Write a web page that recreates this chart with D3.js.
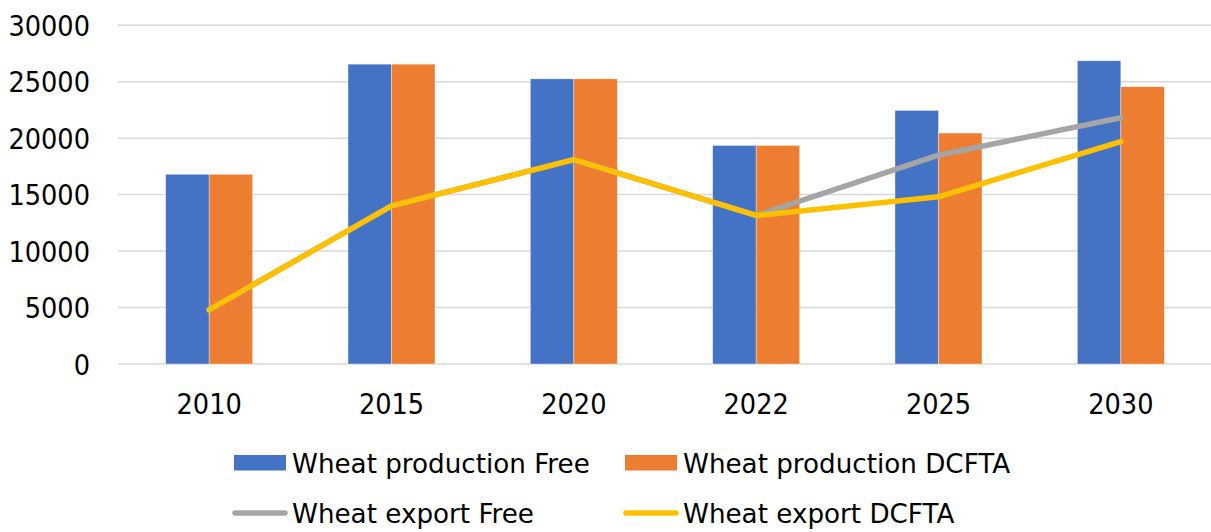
<!DOCTYPE html>
<html>
<head>
<meta charset="utf-8">
<script src="https://cdn.jsdelivr.net/npm/d3@7"></script>
<style>
  html, body { margin: 0; padding: 0; background: #fff; }
  svg { display: block; }
  .axis-text { font-family: "DejaVu Sans Condensed", "DejaVu Sans", sans-serif; font-stretch: condensed; font-size: 28.5px; fill: #000; }
  .legend-text { font-family: "DejaVu Sans", sans-serif; font-size: 26.2px; fill: #000; }
</style>
</head>
<body>
<svg id="chart" width="1211" height="532"></svg>
<script>
const categories = ["2010", "2015", "2020", "2022", "2025", "2030"];
const productionFree = [16800, 26550, 25250, 19350, 22450, 26850];
const productionDCFTA = [16800, 26550, 25250, 19350, 20450, 24550];
const exportFree = [4800, 14000, 18100, 13150, 18500, 21800];
const exportDCFTA = [4800, 14000, 18100, 13150, 14800, 19700];
const yTicks = [0, 5000, 10000, 15000, 20000, 25000, 30000];
const barSeries = [
  { name: "Wheat production Free", values: productionFree, color: "#4472C4" },
  { name: "Wheat production DCFTA", values: productionDCFTA, color: "#ED7D31" }
];
const lineSeries = [
  { name: "Wheat export Free", values: exportFree, color: "#A5A5A5" },
  { name: "Wheat export DCFTA", values: exportDCFTA, color: "#FFC000" }
];

const svg = d3.select("#chart");
const plotLeft = 118, plotRight = 1212, plotTop = 25.2, plotBottom = 364;

const x0 = d3.scaleBand().domain(categories).range([plotLeft, plotRight])
  .paddingInner(0.523).paddingOuter(0.2615);
const x1 = d3.scaleBand().domain(barSeries.map(s => s.name)).range([0, x0.bandwidth()]).padding(0);
const y = d3.scaleLinear().domain([0, 30000]).range([plotBottom, plotTop]);

// gridlines
svg.append("g").selectAll("line").data(yTicks).join("line")
  .attr("x1", plotLeft).attr("x2", 1211)
  .attr("y1", d => y(d)).attr("y2", d => y(d))
  .attr("stroke", "#D9D9D9").attr("stroke-width", 1.5);

// y axis labels
const yAxis = d3.axisLeft(y).tickValues(yTicks).tickSize(0).tickPadding(0).tickFormat(d3.format("d"));
const yg = svg.append("g").attr("transform", "translate(90,0)").call(yAxis);
yg.attr("font-size", null).attr("font-family", null);
yg.select(".domain").remove();
yg.selectAll("text").attr("class", "axis-text")
  .attr("dy", "0.36em").attr("x", 0);

// x axis labels
const xAxis = d3.axisBottom(x0).tickSize(0).tickPadding(0);
const xg = svg.append("g").attr("transform", `translate(0,${plotBottom})`).call(xAxis);
xg.attr("font-size", null).attr("font-family", null);
xg.select(".domain").remove();
xg.selectAll("text").attr("class", "axis-text")
  .attr("dy", null).attr("y", 50);

// bars
barSeries.forEach(s => {
  svg.append("g").selectAll("rect").data(categories).join("rect")
    .attr("x", (c) => x0(c) + x1(s.name))
    .attr("width", x1.bandwidth())
    .attr("y", (c, i) => y(s.values[i]))
    .attr("height", (c, i) => y(0) - y(s.values[i]))
    .attr("fill", s.color)
    .attr("stroke", "#ffffff").attr("stroke-width", 0.6).attr("stroke-opacity", 0.6);
});

// lines
const line = d3.line()
  .x((d, i) => x0(categories[i]) + x0.bandwidth() / 2)
  .y(d => y(d));
lineSeries.forEach(s => {
  svg.append("path").datum(s.values)
    .attr("d", line)
    .attr("fill", "none")
    .attr("stroke", s.color)
    .attr("stroke-width", 5.5)
    .attr("stroke-linecap", "round")
    .attr("stroke-linejoin", "round");
});

// legend
const legendItems = [
  { s: barSeries[0], type: "rect", x: 234, y: 463 },
  { s: barSeries[1], type: "rect", x: 625, y: 463 },
  { s: lineSeries[0], type: "line", x: 234, y: 513 },
  { s: lineSeries[1], type: "line", x: 625, y: 513 }
];
const lg = svg.append("g");
legendItems.forEach(it => {
  if (it.type === "rect") {
    lg.append("rect").attr("x", it.x).attr("y", it.y - 8).attr("width", 52).attr("height", 15.5)
      .attr("fill", it.s.color);
  } else {
    lg.append("line").attr("x1", it.x + 1).attr("x2", it.x + 51)
      .attr("y1", it.y).attr("y2", it.y)
      .attr("stroke", it.s.color).attr("stroke-width", 5.5).attr("stroke-linecap", "round");
  }
  lg.append("text").attr("class", "legend-text")
    .attr("x", it.x + 58).attr("y", it.y + 9.5)
    .text(it.s.name);
});
</script>
</body>
</html>
